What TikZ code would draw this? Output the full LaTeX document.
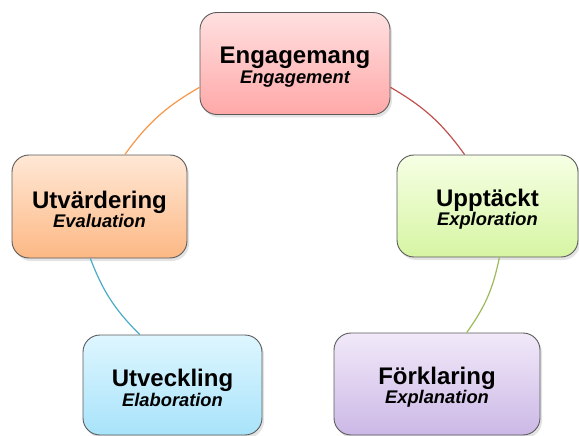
\documentclass[tikz,border=0pt]{standalone}
\usepackage{fontspec}
\setmainfont{Liberation Sans}
\usetikzlibrary{shadows}
\definecolor{eTop}{RGB}{255,224,224}
\definecolor{eBot}{RGB}{255,168,168}
\definecolor{uTop}{RGB}{246,255,228}
\definecolor{uBot}{RGB}{214,245,163}
\definecolor{fTop}{RGB}{241,233,249}
\definecolor{fBot}{RGB}{204,184,230}
\definecolor{vTop}{RGB}{255,232,214}
\definecolor{vBot}{RGB}{252,184,132}
\definecolor{lTop}{RGB}{222,246,255}
\definecolor{lBot}{RGB}{168,227,250}
\definecolor{cRed}{RGB}{192,80,77}
\definecolor{cGreen}{RGB}{155,187,89}
\definecolor{cOrange}{RGB}{247,150,70}
\definecolor{cTeal}{RGB}{75,172,198}
\definecolor{edge}{RGB}{90,90,90}
\tikzset{
  stagebox/.style={draw=edge, line width=0.9pt, rounded corners=17pt,
    align=center, inner sep=0pt,
    font=\fontsize{24}{19.5}\selectfont\bfseries,
    drop shadow={opacity=0.22, shadow xshift=2pt, shadow yshift=-3pt}},
  link/.style={line width=1.2pt}
}
\newcommand{\subtxt}[1]{{\fontsize{18.3}{19.5}\selectfont\bfseries\itshape #1}}
\newcommand{\lift}{\rule{0pt}{23.5pt}}
\begin{document}
\begin{tikzpicture}[x=1pt,y=-1pt]
\useasboundingbox (0,0) rectangle (579,436);
\clip (0,0) rectangle (579,436);
\node[stagebox, top color=eTop, bottom color=eBot, minimum width=190pt, minimum height=102pt] (e) at (295,63.5) {\lift Engagemang\\\subtxt{Engagement}};
\node[stagebox, top color=uTop, bottom color=uBot, minimum width=181pt, minimum height=102pt] (u) at (487.5,206) {\lift Upptäckt\\\subtxt{Exploration}};
\node[stagebox, top color=fTop, bottom color=fBot, minimum width=206pt, minimum height=102pt] (f) at (437,384) {\lift Förklaring\\\subtxt{Explanation}};
\node[stagebox, top color=vTop, bottom color=vBot, minimum width=175pt, minimum height=103pt] (v) at (99.5,206.5) {\lift Utvärdering\\\subtxt{Evaluation}};
\node[stagebox, top color=lTop, bottom color=lBot, minimum width=179pt, minimum height=100pt] (l) at (172.5,385) {\lift Utveckling\\\subtxt{Elaboration}};
\draw[link, cRed] (e.-14) to[bend left=12] (u.114);
\draw[link, cGreen] (u.-77) to[bend left=12] (f.60);
\draw[link, cOrange] (v.64) to[bend left=12] (e.194);
\draw[link, cTeal] (v.-100) to[bend right=12] (l.123);
\end{tikzpicture}
\end{document}
